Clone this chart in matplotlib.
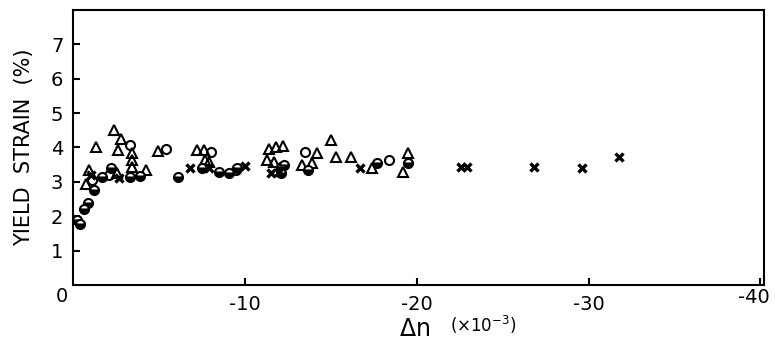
import numpy as np
import matplotlib
matplotlib.use('Agg')
import matplotlib.pyplot as plt

# 数据 (Δn 单位 x10^-3, 屈服应变 %)
open_circle_x = [-1.1, -2.1, -3.3, -5.4, -8.0, -9.5, -13.5, -18.4]
open_circle_y = [3.05, 3.2, 4.07, 3.97, 3.88, 3.34, 3.88, 3.65]

half_circle_x = [-0.25, -0.4, -0.64, -0.89, -1.22, -1.7, -2.2, -3.3, -3.9, -6.1,
                 -7.5, -8.5, -9.1, -9.55, -12.1, -12.1, -12.3, -13.7, -17.7, -19.5]
half_circle_y = [1.89, 1.78, 2.2, 2.39, 2.76, 3.15, 3.39, 3.13, 3.17, 3.13,
                 3.39, 3.29, 3.25, 3.39, 3.44, 3.25, 3.49, 3.34, 3.54, 3.54]

tri_x = [-0.74, -0.93, -1.32, -2.38, -2.77, -2.63, -2.58, -3.41, -3.45, -3.41,
         -4.26, -4.94, -7.2, -7.6, -7.7, -7.9, -11.4, -11.8, -12.2, -11.3,
         -11.7, -13.3, -13.9, -14.2, -15.0, -15.3, -16.2, -17.4, -19.5, -19.2]
tri_y = [2.93, 3.34, 4.02, 4.5, 4.24, 3.92, 3.26, 3.83, 3.65, 3.44,
         3.34, 3.9, 3.92, 3.94, 3.63, 3.58, 3.97, 4.02, 4.04, 3.63,
         3.58, 3.49, 3.54, 3.83, 4.21, 3.73, 3.73, 3.39, 3.85, 3.29]

cross_x = [-1.05, -2.7, -6.8, -7.9, -10.0, -11.5, -12.0, -16.7,
           -22.6, -22.9, -26.8, -29.6, -31.8]
cross_y = [3.2, 3.1, 3.39, 3.39, 3.45, 3.27, 3.29, 3.39,
           3.44, 3.44, 3.42, 3.39, 3.71]

x_ticks = [-10, -20, -30, -40]
x_tick_labels = ['-10', '-20', '-30', '']
y_ticks = [1, 2, 3, 4, 5, 6, 7]

plt.rcParams['font.family'] = ['DejaVu Sans']

fig = plt.figure(figsize=(7.77, 3.43), dpi=100)
ax = fig.add_axes([0.094, 0.169, 0.889, 0.802])

ax.plot(tri_x, tri_y, '^', ms=7, mfc='none', mec='black', mew=1.5, ls='none')
ax.plot(open_circle_x, open_circle_y, 'o', ms=6.5, mfc='none', mec='black', mew=1.5, ls='none')
ax.plot(half_circle_x, half_circle_y, 'o', ms=6.5, fillstyle='bottom',
        mfc='black', mfcalt='white', mec='black', mew=1.5, ls='none')
ax.plot(cross_x, cross_y, 'x', ms=6, mec='black', mew=2.4, ls='none')

ax.set_xlim(0, -40.2)
ax.set_ylim(0, 8)

ax.set_xticks(x_ticks)
ax.set_xticklabels(x_tick_labels)
ax.set_yticks(y_ticks)
ax.tick_params(direction='in', length=5, width=1.5, labelsize=14, pad=7)

for sp in ax.spines.values():
    sp.set_linewidth(1.5)

# 左下角共用的 "0"，以及右端 "-40" 稍微左移以免被裁掉
ax.text(-0.016, -0.04, '0', transform=ax.transAxes, ha='center', va='center', fontsize=14)
ax.text(0.985, -0.045, '-40', transform=ax.transAxes, ha='center', va='center', fontsize=14)

ax.set_ylabel('YIELD  STRAIN  (%)', fontsize=15, labelpad=12)
fig.text(0.534, 0.04, r'$\Delta$n', fontsize=17, ha='center', va='center')
fig.text(0.622, 0.052, r'($\times$10$^{-3}$)', fontsize=12, ha='center', va='center')

plt.savefig('out.png', dpi=100)
